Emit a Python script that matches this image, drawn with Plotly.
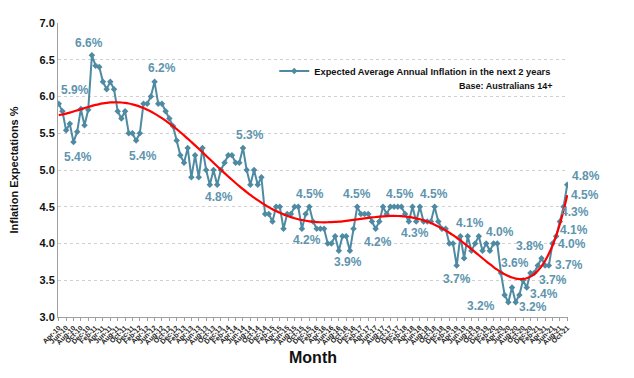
import numpy as np
import pandas as pd
import plotly.graph_objects as go

# ---- data ----
values = [
    5.9, 5.8, 5.54, 5.63, 5.38, 5.52, 5.83, 5.61, 5.82, 6.56,
    6.42, 6.4, 6.2, 6.1, 6.2, 6.1, 5.8, 5.7, 5.8, 5.5,
    5.5, 5.4, 5.5, 5.9, 5.9, 6.0, 6.2, 5.9, 5.9, 5.8,
    5.7, 5.6, 5.4, 5.2, 5.1, 5.3, 4.9, 5.2, 4.9, 5.3,
    5.0, 4.8, 5.0, 4.8, 5.0, 5.1, 5.2, 5.2, 5.1, 5.1,
    5.3, 5.0, 4.8, 5.0, 4.8, 4.9, 4.4, 4.4, 4.3, 4.5,
    4.5, 4.2, 4.4, 4.4, 4.5, 4.5, 4.2, 4.4, 4.5, 4.3,
    4.2, 4.2, 4.2, 4.0, 4.0, 4.1, 3.9, 4.1, 4.1, 3.9,
    4.2, 4.5, 4.4, 4.4, 4.4, 4.3, 4.2, 4.3, 4.5, 4.4,
    4.5, 4.5, 4.5, 4.5, 4.4, 4.3, 4.5, 4.3, 4.5, 4.3,
    4.3, 4.3, 4.5, 4.3, 4.2, 4.2, 4.0, 4.0, 3.7, 4.1,
    3.8, 4.1, 3.9, 4.0, 4.1, 3.9, 4.0, 3.9, 4.0, 4.0,
    3.6, 3.3, 3.2, 3.4, 3.2, 3.3, 3.5, 3.4, 3.6, 3.6,
    3.7, 3.8, 3.7, 3.7, 4.0, 4.1, 4.3, 4.5, 4.8,
]
months = list(pd.date_range("2010-04-01", periods=len(values), freq="MS").strftime("%b-%y"))
tick_labels = months[::2]

# indices of points carrying a data label
label_idx = [9, 0, 4, 26, 21, 50, 41, 68, 66, 79, 81, 86, 92, 97, 102, 111, 108,
             119, 122, 120, 131, 124, 127, 132, 133, 134, 135, 136, 137, 138]
label_shift = [(-3, 12), (16, 14), (5, -15), (7, 14), (7, -15), (7, 13), (9, -12),
               (1, 13), (5, -11), (-2, -11), (0, 13), (2, -13), (2, 13), (-1, -12),
               (-1, 13), (2, 13), (0, -13), (3, 12), (-27, -4), (14, 10), (-11, 12),
               (17, -5), (17, -6), (8, -14), (20, 1), (19, 0), (18, 6), (15, 9),
               (21, 12), (19, 9)]

series_name = "Expected Average Annual Inflation in the next 2 years"
base_note = "Base: Australians 14+"

# 6th order polynomial trendline (as in the original spreadsheet chart)
xi = np.arange(len(values))
coef = np.polyfit(xi, values, 6)
trend = np.polyval(coef, xi)

LINE = "#4F8AA3"
LABEL = "#5E94AE"
FONT = "Arial, Liberation Sans, sans-serif"

fig = go.Figure()
fig.add_trace(go.Scatter(
    x=months, y=values, mode="lines+markers", name=series_name,
    line=dict(color=LINE, width=2),
    marker=dict(symbol="diamond", size=5, color=LINE),
))
fig.add_trace(go.Scatter(
    x=months, y=trend, mode="lines", showlegend=False,
    line=dict(color="#FF0000", width=2.2, shape="spline"),
))

for i, (dx, dy) in zip(label_idx, label_shift):
    fig.add_annotation(
        x=months[i], y=values[i], text=f"{values[i]:.1f}%", showarrow=False,
        xshift=dx, yshift=dy,
        font=dict(family=FONT, size=12, color=LABEL, weight="bold"),
    )

fig.add_annotation(
    x=0.973, y=0.786, xref="paper", yref="paper", xanchor="right", yanchor="middle",
    text=base_note, showarrow=False,
    font=dict(family=FONT, size=9, color="#111111", weight="bold"),
)

fig.update_layout(
    width=626, height=370,
    margin=dict(l=50, r=66, t=15, b=61, autoexpand=False),
    plot_bgcolor="white", paper_bgcolor="white",
    font=dict(family=FONT, color="#111111"),
    showlegend=True,
    legend=dict(
        x=0.977, y=0.837, xanchor="right", yanchor="middle",
        bgcolor="rgba(0,0,0,0)", itemwidth=30,
        font=dict(family=FONT, size=9.3, color="#111111", weight="bold"),
        tracegroupgap=0,
    ),
    xaxis=dict(
        type="category", automargin=False,
        range=[-0.2, len(values) - 0.8],
        tickmode="array", tickvals=tick_labels, ticktext=tick_labels,
        tickangle=-45,
        tickfont=dict(family=FONT, size=7, color="#222222", weight="bold"),
        showgrid=False,
        showline=True, linecolor="#A0A0A0", linewidth=1,
        ticks="outside", ticklen=3, tickcolor="#A0A0A0",
        title=dict(text="Month", font=dict(family=FONT, size=16, color="#111111", weight="bold"),
                   standoff=6),
        zeroline=False,
    ),
    yaxis=dict(
        range=[3.0, 7.0], automargin=False,
        tickvals=[3.0, 3.5, 4.0, 4.5, 5.0, 5.5, 6.0, 6.5, 7.0],
        tickformat=".1f",
        tickfont=dict(family=FONT, size=11, color="#111111", weight="bold"),
        showgrid=True, gridcolor="#D0D0D0", griddash="dot", gridwidth=1,
        showline=True, linecolor="#A0A0A0", linewidth=1,
        ticks="",
        title=dict(text="Inflation Expectations %",
                   font=dict(family=FONT, size=11, color="#111111", weight="bold"),
                   standoff=20),
        zeroline=False,
    ),
)

fig.write_html("out.html")
